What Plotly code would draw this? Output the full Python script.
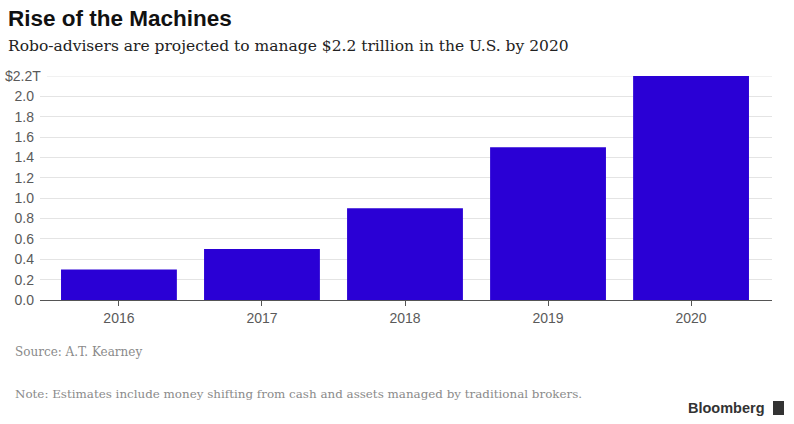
import plotly.graph_objects as go

years = ["2016", "2017", "2018", "2019", "2020"]
assets_trillions = [0.3, 0.5, 0.9, 1.5, 2.2]
y_ticks = [0.0, 0.2, 0.4, 0.6, 0.8, 1.0, 1.2, 1.4, 1.6, 1.8, 2.0]
y_tick_labels = ["0.0", "0.2", "0.4", "0.6", "0.8", "1.0", "1.2", "1.4",
                 "1.6", "1.8", "2.0"]
y_top = 2.2
y_top_label = "$2.2T"

positions = list(range(len(years)))

# plot area in pixels: x 40..772, y 76..300
PW, PH = 732, 224


def px(x):
    return (x - 40) / PW


def py(y):
    return (300 - y) / PH


fig = go.Figure()
fig.add_bar(
    x=positions,
    y=assets_trillions,
    width=0.81,
    marker={"color": "#2a00d5", "line": {"width": 0}},
    hoverinfo="skip",
)

fig.update_layout(
    width=794,
    height=424,
    margin={"l": 40, "r": 22, "t": 76, "b": 124, "autoexpand": False},
    paper_bgcolor="white",
    plot_bgcolor="white",
    showlegend=False,
    font={"family": "Liberation Sans, Arial, sans-serif", "color": "#5a5a5a"},
    xaxis={
        "automargin": False,
        "range": [-0.552, 4.566],
        "tickvals": positions,
        "ticktext": years,
        "ticks": "outside",
        "ticklen": 5,
        "tickcolor": "#555555",
        "showline": True,
        "linecolor": "#555555",
        "linewidth": 1,
        "showgrid": False,
        "zeroline": False,
        "tickfont": {"size": 14, "color": "#5a5a5a"},
        "fixedrange": True,
    },
    yaxis={
        "automargin": False,
        "range": [0, y_top],
        "tickvals": y_ticks,
        "ticktext": y_tick_labels,
        "showgrid": True,
        "gridcolor": "#e4e4e4",
        "gridwidth": 1,
        "zeroline": False,
        "ticks": "",
        "ticklabelstandoff": 5,
        "tickfont": {"size": 14, "color": "#5a5a5a"},
        "fixedrange": True,
    },
)

# top gridline starts after its wider label
fig.add_shape(
    type="line", xref="paper", yref="y", x0=px(47), x1=1, y0=y_top, y1=y_top,
    line={"color": "#e4e4e4", "width": 1}, layer="below",
)
fig.add_annotation(
    text=y_top_label, xref="paper", yref="y", x=px(43), y=y_top,
    xanchor="right", yanchor="middle", showarrow=False,
    font={"family": "Liberation Sans, Arial, sans-serif", "size": 14, "color": "#5a5a5a"},
)

fig.add_annotation(
    text="<b>Rise of the Machines</b>",
    xref="paper", yref="paper", x=px(6), y=py(18),
    xanchor="left", yanchor="middle", showarrow=False,
    font={"family": "Liberation Sans, Arial, sans-serif", "size": 22.5, "color": "#111111"},
)
fig.add_annotation(
    text="Robo-advisers are projected to manage $2.2 trillion in the U.S. by 2020",
    xref="paper", yref="paper", x=px(6), y=py(46),
    xanchor="left", yanchor="middle", showarrow=False,
    font={"family": "DejaVu Serif, Georgia, serif", "size": 15.5, "color": "#222222"},
)
fig.add_annotation(
    text="Source: A.T. Kearney",
    xref="paper", yref="paper", x=px(13), y=py(352),
    xanchor="left", yanchor="middle", showarrow=False,
    font={"family": "DejaVu Serif, Georgia, serif", "size": 12, "color": "#8a8a8a"},
)
fig.add_annotation(
    text="Note: Estimates include money shifting from cash and assets managed by traditional brokers.",
    xref="paper", yref="paper", x=px(13), y=py(394),
    xanchor="left", yanchor="middle", showarrow=False,
    font={"family": "DejaVu Serif, Georgia, serif", "size": 11.9, "color": "#8a8a8a"},
)
fig.add_annotation(
    text="<b>Bloomberg</b>",
    xref="paper", yref="paper", x=px(767), y=py(408),
    xanchor="right", yanchor="middle", showarrow=False,
    font={"family": "Liberation Sans, Arial, sans-serif", "size": 14.5, "color": "#333333"},
)
# small logo badge next to the wordmark
fig.add_shape(
    type="rect", xref="paper", yref="paper",
    x0=px(773), x1=px(784), y0=py(415), y1=py(401),
    fillcolor="#333333", line={"width": 0},
)

fig.write_html(
    "out.html",
    config={"displayModeBar": False, "staticPlot": True},
    post_script="document.body.style.margin = '0';",
)
